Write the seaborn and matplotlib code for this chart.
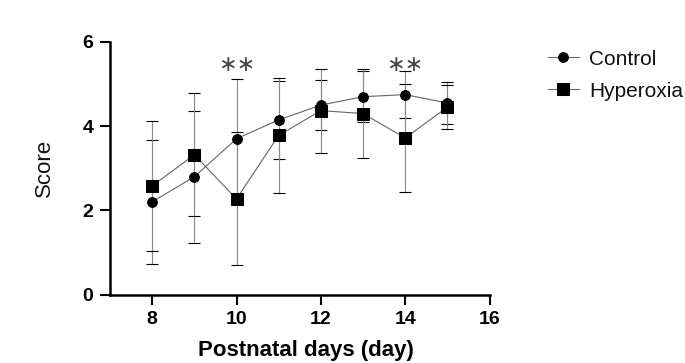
import pandas as pd
import seaborn as sns
import matplotlib.pyplot as plt
import matplotlib
matplotlib.use("Agg")

# Data (mean +/- SD)
days = [8, 9, 10, 11, 12, 13, 14, 15]
control_mean = [2.20, 2.80, 3.70, 4.15, 4.50, 4.70, 4.75, 4.55]
control_sd = [1.47, 1.57, 1.42, 0.93, 0.60, 0.60, 0.55, 0.50]
hyper_mean = [2.58, 3.32, 2.27, 3.78, 4.37, 4.30, 3.72, 4.45]
hyper_sd = [1.54, 1.46, 1.58, 1.36, 1.00, 1.05, 1.28, 0.52]
sig_days = [10, 14]
groups = ["Control", "Hyperoxia"]

df = pd.concat([
    pd.DataFrame({"day": days, "score": control_mean, "sd": control_sd, "group": "Control"}),
    pd.DataFrame({"day": days, "score": hyper_mean, "sd": hyper_sd, "group": "Hyperoxia"}),
])

sns.set_style("ticks")
plt.rcParams["font.family"] = ["Liberation Sans", "DejaVu Sans"]

fig = plt.figure(figsize=(6.85, 3.63), dpi=100)
ax = fig.add_axes([0.1606, 0.1887, 0.554, 0.6956])

# error bars first so markers sit on top
for g in groups:
    sub = df[df["group"] == g]
    ax.errorbar(sub["day"], sub["score"], yerr=sub["sd"], fmt="none",
                ecolor="#888888", elinewidth=0.8, capsize=4.5, capthick=0.8, zorder=1)

sns.lineplot(data=df, x="day", y="score", hue="group", style="group",
             markers={"Control": "o", "Hyperoxia": "s"}, dashes=False,
             palette={"Control": "#666666", "Hyperoxia": "#666666"},
             linewidth=0.8, markersize=8, markeredgecolor="black",
             ax=ax, zorder=3)
for line in ax.lines:
    line.set_markerfacecolor("black")
    line.set_markeredgecolor("black")
    if line.get_marker() == "o":
        line.set_markersize(7)

# significance marks
for d in sig_days:
    ax.text(d, 5.45, "\u2217\u2217", ha="center", va="center", fontsize=16,
            color="#444444", family=["DejaVu Sans"])

ax.set_xlim(7, 16)
ax.set_ylim(0, 6)
ax.set_xticks([8, 10, 12, 14, 16])
ax.set_yticks([0, 2, 4, 6])
sns.despine(ax=ax)
for s in ["left", "bottom"]:
    ax.spines[s].set_linewidth(1.8)
    ax.spines[s].set_color("black")
ax.tick_params(width=1.5, length=7, labelsize=14, colors="black", pad=5)
for lab in ax.get_xticklabels() + ax.get_yticklabels():
    lab.set_fontweight("bold")

ax.set_xlabel("Postnatal days (day)", fontsize=16, fontweight="bold", color="black")
ax.set_ylabel("Score", fontsize=16, labelpad=20, color="#111111")
ax.xaxis.set_label_coords(0.517, -0.18)

handles, labels = ax.get_legend_handles_labels()
for h in handles:
    h.set_markerfacecolor("black")
    h.set_markeredgecolor("black")
    h.set_color("#666666")
    if h.get_marker() == "o":
        h.set_markersize(7)
leg = ax.legend(handles, labels, loc="upper left", bbox_to_anchor=(0.772, 0.915),
                bbox_transform=fig.transFigure, frameon=False, fontsize=15,
                handlelength=1.5, labelspacing=0.62, handletextpad=0.5)
for t in leg.get_texts():
    t.set_color("#111111")

fig.savefig("out.png", dpi=100)
